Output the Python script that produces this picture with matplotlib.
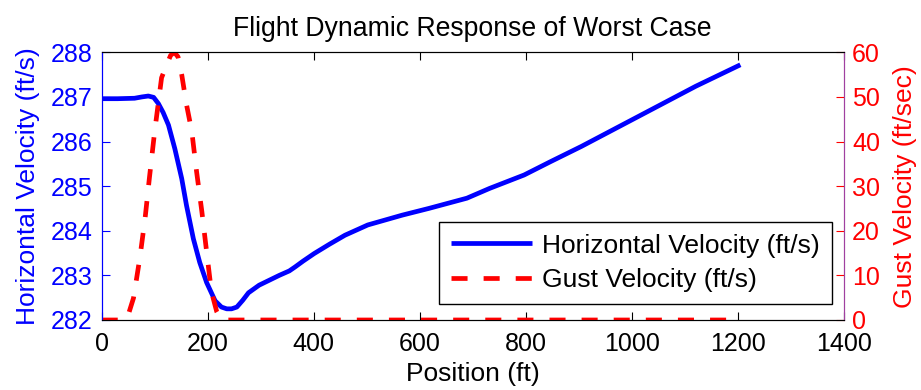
import matplotlib
matplotlib.use('Agg')
import matplotlib.pyplot as plt

plt.rcParams['font.family'] = ['Liberation Sans', 'DejaVu Sans']

# horizontal velocity (ft/s) vs position (ft)
pos_v = [0, 30, 62, 76, 88, 98, 107, 116, 126, 138, 151, 160, 173, 185,
         198, 214, 226, 236, 245, 255, 266, 277, 297, 316, 335, 354, 365,
         380, 401, 430, 459, 502, 567, 617, 689, 732, 797, 847, 905, 977,
         1049, 1121, 1205]
vel_h = [286.96, 286.96, 286.97, 287.0, 287.02, 286.99, 286.85, 286.65,
         286.37, 285.84, 285.17, 284.57, 283.82, 283.29,
         282.84, 282.43, 282.29, 282.25, 282.25, 282.29, 282.44, 282.61,
         282.78, 282.89, 283.0, 283.10, 283.19, 283.32, 283.49, 283.70,
         283.90, 284.13, 284.35, 284.50, 284.73, 284.95, 285.25, 285.55,
         285.89, 286.34, 286.79, 287.24, 287.72]

# gust velocity (ft/s) vs position (ft)
pos_g = [0, 42, 50, 60, 72, 82, 90, 100, 113, 123, 130, 137, 144, 151,
         160, 170, 179, 189, 198, 207, 217, 226, 600, 1205]
vel_g = [0, 0, 1.1, 4.9, 13.9, 22.9, 31.8, 42.3, 54.3, 57.3, 59.3, 60,
         59.0, 55.0, 48.3, 42.3, 33.3, 24.3, 15.3, 6.4, 1.9, 0, 0, 0]

BLUE = '#0000ff'
RED = '#ff0000'

fig = plt.figure(figsize=(9.21, 3.9), dpi=100)
ax1 = fig.add_axes([0.1104, 0.1795, 0.8057, 0.6864])
ax2 = ax1.twinx()

l1, = ax1.plot(pos_v, vel_h, color=BLUE, lw=3.4, solid_capstyle='butt',
               label='Horizontal Velocity (ft/s)')
l2, = ax2.plot(pos_g, vel_g, color=RED, lw=3.4, dashes=(3.4, 3.4),
               label='Gust Velocity (ft/s)')

ax1.set_xlim(0, 1400)
ax1.set_ylim(282, 288)
ax2.set_ylim(0, 60)
ax1.set_xticks(range(0, 1401, 200))
ax1.set_yticks(range(282, 289))
ax2.set_yticks(range(0, 61, 10))

ax1.tick_params(axis='x', direction='in', top=True, labelsize=18, length=6,
                colors='black', pad=9)
ax1.tick_params(axis='y', direction='in', labelsize=18, length=6,
                colors=BLUE, pad=6.5)
ax2.tick_params(axis='y', direction='in', labelsize=18, length=6,
                colors=RED, pad=6)

for ax in (ax1, ax2):
    ax.spines['left'].set_color(BLUE)
    ax.spines['right'].set_color('#a040a0')
    ax.spines['top'].set_color('black')
    ax.spines['bottom'].set_color('black')

ax1.set_xlabel('Position (ft)', fontsize=19, labelpad=4)
ax1.set_ylabel('Horizontal Velocity (ft/s)', fontsize=19, color=BLUE,
               labelpad=8)
ax2.set_ylabel('Gust Velocity (ft/sec)', fontsize=19, color=RED,
               labelpad=9.5)
ax1.set_title('Flight Dynamic Response of Worst Case', fontsize=19.2, pad=12)

leg = ax2.legend(handles=[l1, l2], loc='lower right',
                 bbox_to_anchor=(0.984, 0.06), borderaxespad=0,
                 fontsize=19, fancybox=False, framealpha=1,
                 edgecolor='black', handlelength=3.05, labelspacing=0.4,
                 borderpad=0.45, handletextpad=0.4)
leg.get_frame().set_linewidth(1.0)

fig.savefig('out.png', dpi=100)
